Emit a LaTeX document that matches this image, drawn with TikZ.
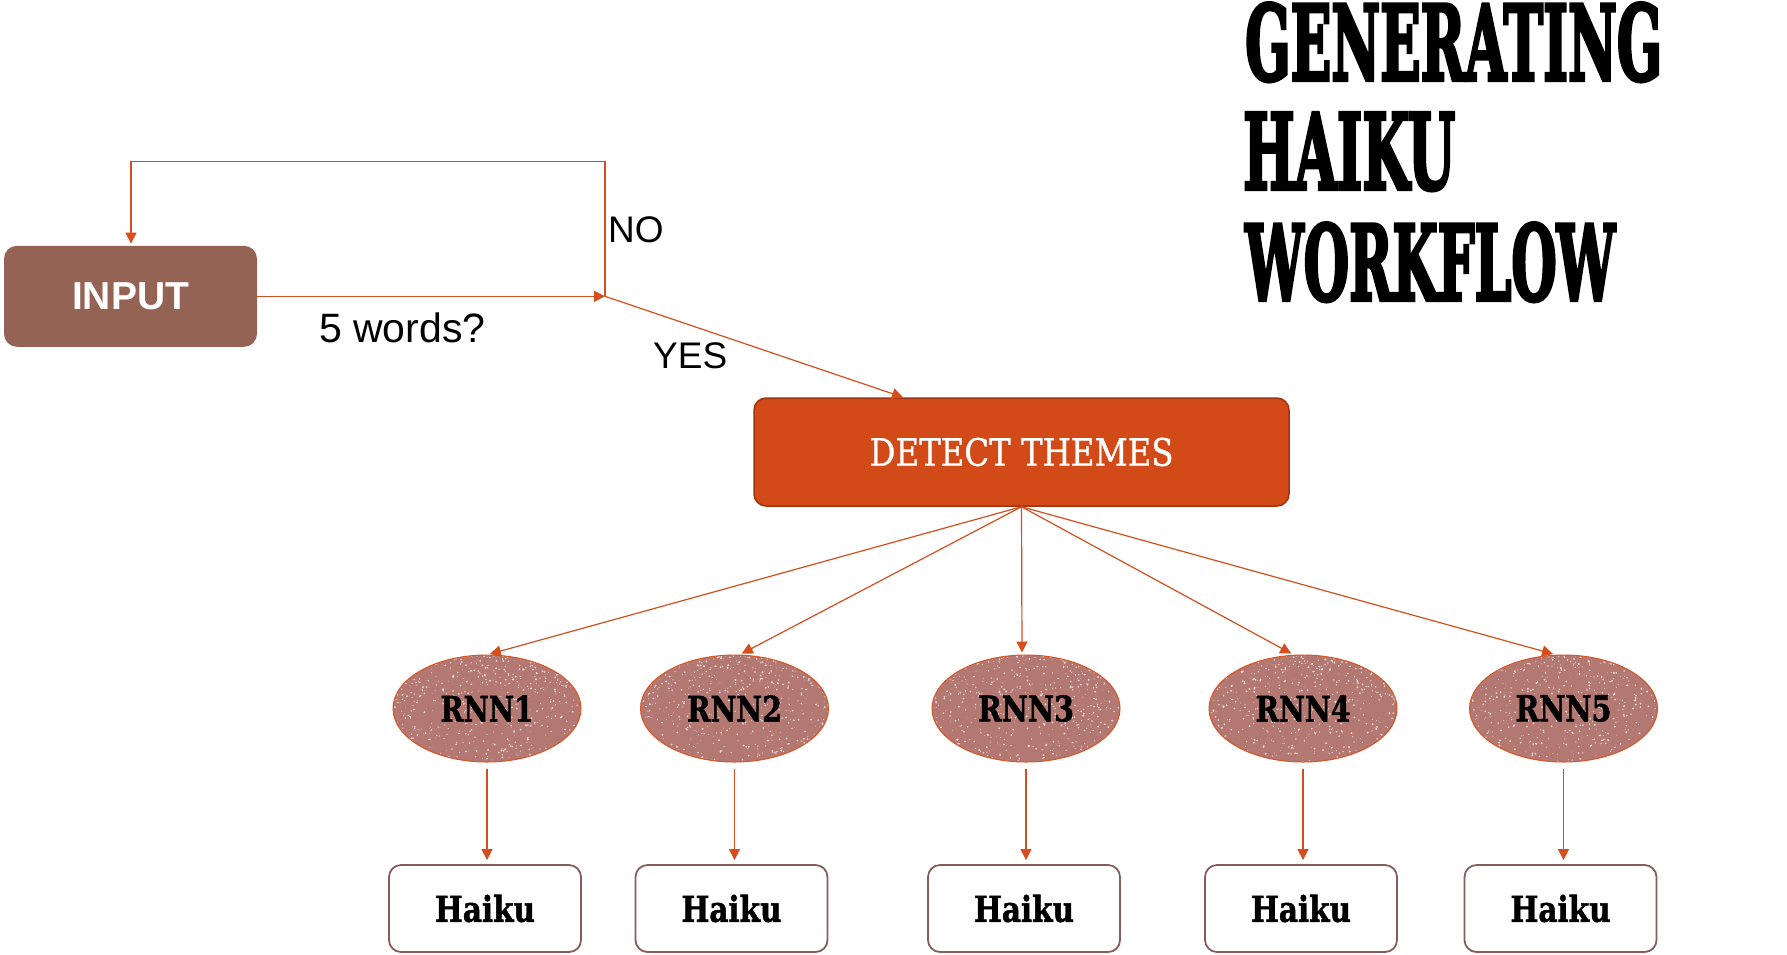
\documentclass[tikz,border=0pt]{standalone}
\usepackage{fontspec}
\usepackage{graphicx}
\setmainfont{Liberation Sans}
\newfontfamily\slab[FakeBold=1]{DejaVu Serif}
\newfontfamily\slabbold[UprightFont={* Bold},FakeBold=1.5]{DejaVu Serif}
\newfontfamily\slabtitle[UprightFont={* Bold},FakeBold=4]{DejaVu Serif}
\usetikzlibrary{shapes.geometric,arrows.meta,calc}
\definecolor{inputc}{RGB}{149,99,83}
\definecolor{detectc}{RGB}{209,74,24}
\definecolor{detectb}{RGB}{160,52,16}
\definecolor{arrowc}{RGB}{212,78,30}
\definecolor{rnnfill}{RGB}{178,120,113}
\definecolor{rnnb}{RGB}{218,84,36}
\definecolor{haikub}{RGB}{133,94,92}
\newcommand{\rnnspeckle}{%
  \foreach \i in {1,...,650}{%
    \pgfmathsetmacro{\gx}{rand*94}%
    \pgfmathsetmacro{\gy}{-54+108*rnd^1.4}%
    \pgfmathsetmacro{\gr}{0.3+0.8*rnd}%
    \fill[white,opacity=0.7] ($(path picture bounding box.center)+(\gx,\gy)$) circle (\gr pt);
  }}
\begin{document}
\pgfmathsetseed{7}
\begin{tikzpicture}[x=1pt,y=-1pt,
  arr/.style={draw=arrowc,line width=1.2pt,-{Triangle[length=11pt,width=11pt]}},
  inbox/.style={rectangle,rounded corners=13pt,fill=inputc,minimum width=253pt,minimum height=101pt,inner sep=0pt,text=white,font=\fontsize{39}{44}\selectfont\bfseries},
  detbox/.style={rectangle,rounded corners=12pt,fill=detectc,draw=detectb,line width=1.5pt,minimum width=535pt,minimum height=108pt,inner sep=0pt,text=white},
  rnn/.style={ellipse,fill=rnnfill,draw=rnnb,line width=1pt,minimum width=188pt,minimum height=107pt,inner sep=0pt,path picture={\rnnspeckle}},
  haiku/.style={rectangle,rounded corners=12pt,draw=haikub,line width=1.8pt,fill=white,minimum width=192pt,minimum height=87pt,inner sep=0pt},
  lab/.style={anchor=base west,inner sep=0pt,font=\fontsize{37}{40}\selectfont},
  ttl/.style={anchor=base west,inner sep=0pt}
]
\fill[white] (0,0) rectangle (1787,954);
\useasboundingbox (0,0) rectangle (1787,954);

% title
\node[ttl] (t1) at (1245,80) {\resizebox{417pt}{77pt}{\slabtitle GENERATING}};
\node[ttl] (t2) at (1243,189) {\resizebox{212pt}{76pt}{\slabtitle HAIKU}};
\node[ttl] (t3) at (1245,300) {\resizebox{370pt}{77pt}{\slabtitle WORKFLOW}};

% nodes
\node[inbox] (in) at (130.5,296.3) {INPUT\hspace{15pt}};
\coordinate (j) at (605,296.3);
\coordinate (top) at (605,161.5);
\node[detbox] (d) at (1021.5,452) {\resizebox{304pt}{28pt}{\slab DETECT THEMES}};

\node[rnn] (r1) at (487,708.5) {\resizebox{93pt}{26pt}{\slabbold RNN1}};
\node[rnn] (r2) at (734.5,708.5) {\resizebox{95pt}{26pt}{\slabbold RNN2}};
\node[rnn] (r3) at (1026,708.5) {\resizebox{96pt}{26pt}{\slabbold RNN3}};
\node[rnn] (r4) at (1303,708.5) {\resizebox{95pt}{26pt}{\slabbold RNN4}};
\node[rnn] (r5) at (1563.5,708.5) {\resizebox{96pt}{26pt}{\slabbold RNN5}};

\node[haiku] (h1) at (485,908.5) {\resizebox{100pt}{27pt}{\slabbold Haiku}};
\node[haiku] (h2) at (731.5,908.5) {\resizebox{100pt}{27pt}{\slabbold Haiku}};
\node[haiku] (h3) at (1024,908.5) {\resizebox{100pt}{27pt}{\slabbold Haiku}};
\node[haiku] (h4) at (1301,908.5) {\resizebox{100pt}{27pt}{\slabbold Haiku}};
\node[haiku] (h5) at (1560.5,908.5) {\resizebox{100pt}{27pt}{\slabbold Haiku}};

% labels
\node[lab] (no) at (608,242) {NO};
\node[lab,font=\fontsize{41}{44}\selectfont] (q) at (319,342) {5 words?};
\node[lab] (yes) at (653,368) {YES};

% connectors
\draw[arr] (in.east) -- (j);
\draw[arr,shorten >=2pt] (j) -- (top) -| ([xshift=0.5pt]in.north);
\draw[arr] (j) -- ([xshift=-118.5pt]d.north);
\foreach \k/\dx in {1/1,2/5.5,3/-4,4/-10,5/-8.5}
  \draw[arr,shorten >=2pt] (d.south) -- ([xshift=\dx pt]r\k.north);
\foreach \k in {1,...,5}
  \draw[arr,shorten <=6pt,shorten >=4pt] (r\k.south) -- (r\k.south |- h\k.north);
\end{tikzpicture}
\end{document}
